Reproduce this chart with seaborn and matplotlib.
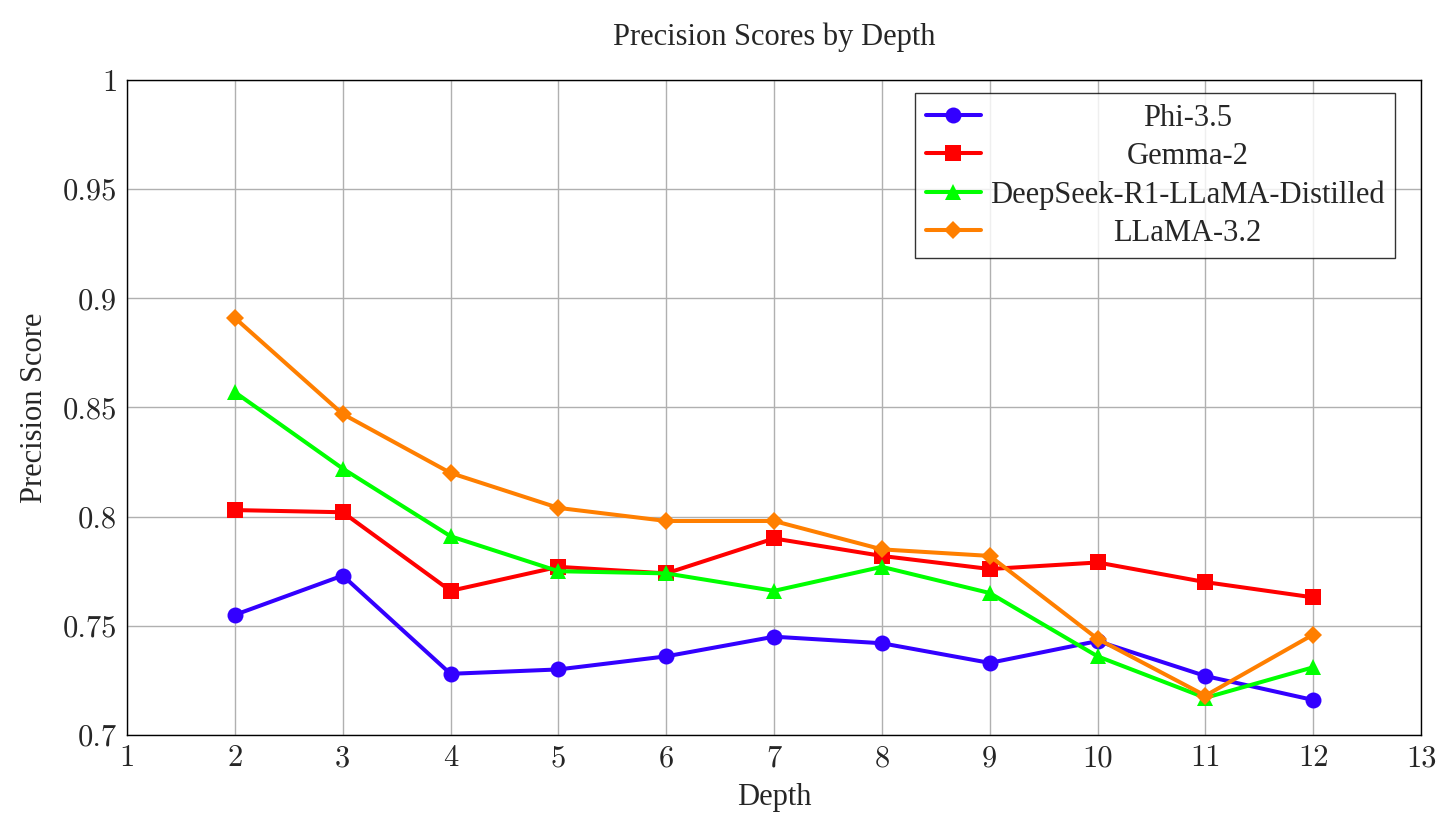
import matplotlib
matplotlib.use("Agg")
import matplotlib.pyplot as plt
import seaborn as sns
import pandas as pd

# Precision scores
depths = [2, 3, 4, 5, 6, 7, 8, 9, 10, 11, 12]
phi = [0.755, 0.773, 0.728, 0.730, 0.736, 0.745, 0.742, 0.733, 0.743, 0.727, 0.716]
gemma = [0.803, 0.802, 0.766, 0.777, 0.774, 0.790, 0.782, 0.776, 0.779, 0.770, 0.763]
deepseek = [0.857, 0.822, 0.791, 0.775, 0.774, 0.766, 0.777, 0.765, 0.736, 0.717, 0.731]
llama = [0.891, 0.847, 0.820, 0.804, 0.798, 0.798, 0.785, 0.782, 0.744, 0.718, 0.746]

models = ["Phi-3.5", "Gemma-2", "DeepSeek-R1-LLaMA-Distilled", "LLaMA-3.2"]
colors = ["#3300FF", "#FF0000", "#00FF00", "#FF7F00"]
markers = ["o", "s", "^", "D"]
marker_sizes = [11.5, 11.5, 11, 9]

x_ticks = list(range(1, 14))
x_tick_labels = [str(v) for v in x_ticks]
y_ticks = [0.7, 0.75, 0.8, 0.85, 0.9, 0.95, 1.0]
y_tick_labels = ["0.7", "0.75", "0.8", "0.85", "0.9", "0.95", "1"]

df = pd.DataFrame({"Depth": depths, models[0]: phi, models[1]: gemma,
                   models[2]: deepseek, models[3]: llama})
long_df = df.melt(id_vars="Depth", var_name="Model", value_name="Precision")

sns.set_style("white")
plt.rcParams["font.family"] = ["Liberation Serif", "DejaVu Serif"]

fig = plt.figure(figsize=(14.47, 8.23), dpi=100)
ax = fig.add_axes([0.0878, 0.107, 0.8943, 0.7958])

for model, color, marker, ms in zip(models, colors, markers, marker_sizes):
    sub = long_df[long_df["Model"] == model]
    sns.lineplot(data=sub, x="Depth", y="Precision", ax=ax, color=color,
                 marker=marker, markersize=ms, markeredgewidth=0,
                 linewidth=2.9, label=model)

ax.set_xlim(1, 13)
ax.set_ylim(0.7, 1.0)
ax.set_xticks(x_ticks)
ax.set_xticklabels(x_tick_labels, fontfamily="cmr10", fontsize=22)
ax.set_yticks(y_ticks)
ax.set_yticklabels(y_tick_labels, fontfamily="cmr10", fontsize=22)
ax.tick_params(direction="in", length=4, width=0.8, pad=7)
ax.grid(True, color="#b0b0b0", linewidth=1)
ax.set_axisbelow(True)
for spine in ax.spines.values():
    spine.set_color("black")
    spine.set_linewidth(1)

ax.set_xlabel("Depth", fontsize=22, labelpad=8)
ax.set_ylabel("Precision Score", fontsize=22, labelpad=10)
ax.set_title("Precision Scores by Depth", fontsize=22, pad=25)

leg = ax.legend(loc="upper right", bbox_to_anchor=(0.980, 0.980), fontsize=22,
                frameon=True, fancybox=False, edgecolor="black",
                handlelength=1.8, borderpad=0.35, labelspacing=0.3,
                handletextpad=0.3, borderaxespad=0)
leg.get_frame().set_linewidth(1)

# centre the legend entries like pgfplots does
fig.canvas.draw()
renderer = fig.canvas.get_renderer()
widths = [t.get_window_extent(renderer).width for t in leg.get_texts()]
widest = max(widths)
for t, w in zip(leg.get_texts(), widths):
    t.set_position(((widest - w) / 2, 0))

fig.savefig("out.png", dpi=100)
